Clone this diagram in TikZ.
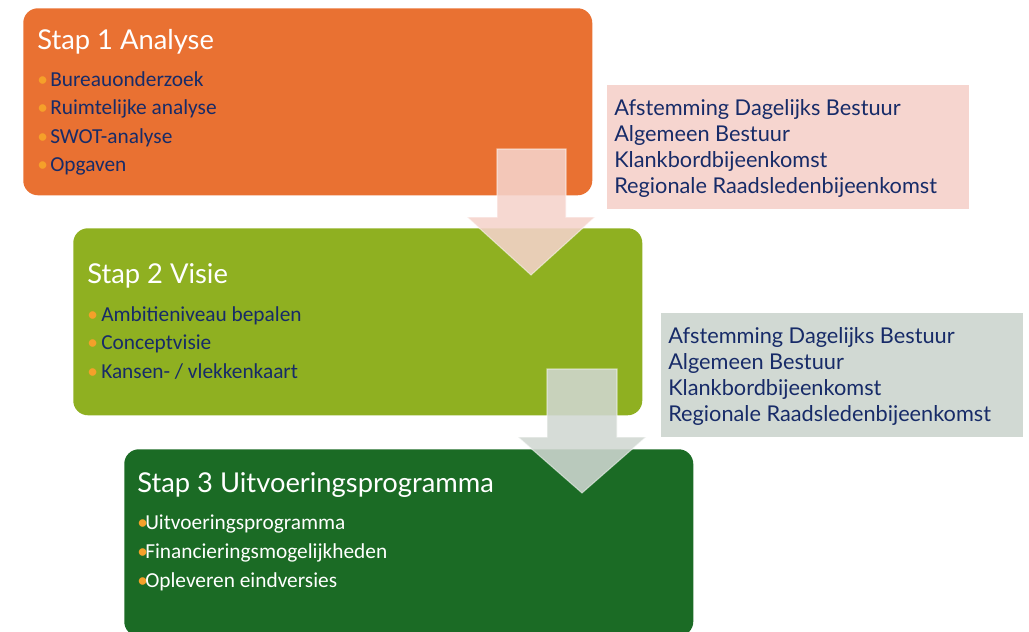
\documentclass[tikz,border=0pt]{standalone}
\usepackage{fontspec}
\setmainfont{Carlito}
\newfontfamily\titlefont{Lato}
\definecolor{stepA}{HTML}{E97132}
\definecolor{stepB}{HTML}{8FB021}
\definecolor{stepC}{HTML}{1B6B25}
\definecolor{noteA}{HTML}{F6D5CF}
\definecolor{noteB}{HTML}{D1D9D3}
\definecolor{navy}{HTML}{172B68}
\definecolor{bul}{HTML}{F5A02A}
\definecolor{arrA}{RGB}{245,211,203}
\definecolor{arrB}{RGB}{208,215,209}
\tikzset{
  stepbox/.style={rounded corners=11pt, minimum width=426.75pt, minimum height=140.25pt, anchor=north west, inner sep=0pt, draw=none},
  notebox/.style={minimum width=271.5pt, minimum height=93pt, anchor=north west, inner sep=0pt, draw=none},
  title/.style={anchor=base west, inner sep=0pt, text=white, font=\titlefont\fontsize{20.5}{24}\selectfont},
  item/.style={anchor=base west, inner sep=0pt, text=navy, font=\fontsize{16}{19}\selectfont},
  itemw/.style={item, text=white},
  dot/.style={anchor=base west, inner sep=0pt, text=bul, font=\fontsize{16}{19}\selectfont},
  note/.style={anchor=base west, inner sep=0pt, text=navy, font=\titlefont\fontsize{16.3}{19}\selectfont},
  blockarrow/.style={draw=white, draw opacity=0.5, line width=0.8pt, fill opacity=0.88},
}
\begin{document}
\begin{tikzpicture}[x=0.75pt,y=-0.75pt]
\useasboundingbox (0,0) rectangle (1029,632);
\clip (0,0) rectangle (1029,632);
% step boxes
\node[stepbox, fill=stepA] (s1) at (23,8) {};
\node[stepbox, fill=stepB] (s2) at (73,228) {};
\node[stepbox, fill=stepC] (s3) at (124,449) {};
% note boxes
\node[notebox, fill=noteA] (n1) at (607,85) {};
\node[notebox, fill=noteB] (n2) at (661,313) {};
% step 1 text
\node[title] (t1) at (37,49) {Stap 1 Analyse};
\node[dot] (d11) at (37,86) {•};
\node[item] (i11) at (50,86) {Bureauonderzoek};
\node[dot] (d12) at (37,114.5) {•};
\node[item] (i12) at (50,114.5) {Ruimtelijke analyse};
\node[dot] (d13) at (37,143) {•};
\node[item] (i13) at (50,143) {SWOT-analyse};
\node[dot] (d14) at (37,171.5) {•};
\node[item] (i14) at (50,171.5) {Opgaven};
% step 2 text
\node[title] (t2) at (87,283) {Stap 2 Visie};
\node[dot] (d21) at (87,321) {•};
\node[item] (i21) at (101,321) {Ambitieniveau bepalen};
\node[dot] (d22) at (87,349.5) {•};
\node[item] (i22) at (101,349.5) {Conceptvisie};
\node[dot] (d23) at (87,378) {•};
\node[item] (i23) at (101,378) {Kansen- / vlekkenkaart};
% step 3 text
\node[title] (t3) at (137,492) {Stap 3 Uitvoeringsprogramma};
\node[dot] (d31) at (137,529) {•};
\node[itemw] (i31) at (145,529) {Uitvoeringsprogramma};
\node[dot] (d32) at (137,558) {•};
\node[itemw] (i32) at (145,558) {Financieringsmogelijkheden};
\node[dot] (d33) at (137,587) {•};
\node[itemw] (i33) at (145,587) {Opleveren eindversies};
% note texts
\node[note] (a1) at (614,115) {Afstemming Dagelijks Bestuur};
\node[note] (a2) at (614,141) {Algemeen Bestuur};
\node[note] (a3) at (614,167) {Klankbordbijeenkomst};
\node[note] (a4) at (614,193) {Regionale Raadsledenbijeenkomst};
\node[note] (b1) at (668,343) {Afstemming Dagelijks Bestuur};
\node[note] (b2) at (668,369) {Algemeen Bestuur};
\node[note] (b3) at (668,395) {Klankbordbijeenkomst};
\node[note] (b4) at (668,421) {Regionale Raadsledenbijeenkomst};
% block arrows
\path[blockarrow, fill=arrA] (497,149) -- (566,149) -- (566,217) -- (595,217) -- (531,275) -- (467,217) -- (497,217) -- cycle;
\path[blockarrow, fill=arrB] (547,369) -- (617,369) -- (617,437) -- (646,437) -- (582,493) -- (518,437) -- (547,437) -- cycle;
\end{tikzpicture}
\end{document}
